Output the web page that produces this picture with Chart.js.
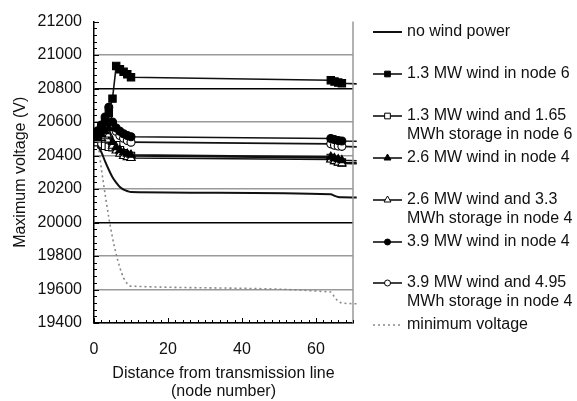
<!DOCTYPE html>
<html>
<head>
<meta charset="utf-8">
<script src="https://cdn.jsdelivr.net/npm/chart.js@4"></script>
<style>
  body { margin: 0; background: #fff; }
  canvas { display: block; }
</style>
</head>
<body>
<canvas id="chart" width="577" height="401"></canvas>
<script>
// node numbers (71 is only there so the lines run a little past the frame)
const nodes = [1, 2, 3, 4, 5, 6, 7, 8, 9, 10, 64, 65, 66, 67, 71];

// maximum voltage (V) per node
const noWind           = [20460, 20420, 20365, 20315, 20270, 20238, 20212, 20196, 20188, 20182, 20169, 20160, 20153, 20151, 20150];
const wind13Node6      = [20530, 20560, 20600, 20655, 20740, 20935, 20915, 20900, 20885, 20868, 20850, 20842, 20836, 20832, 20828];
const wind13Storage    = [20480, 20468, 20458, 20452, 20450, 20462, 20432, 20414, 20404, 20398, 20386, 20374, 20364, 20358, 20356];
const wind26Node4      = [20505, 20525, 20545, 20565, 20480, 20450, 20432, 20418, 20410, 20404, 20392, 20384, 20377, 20372, 20369];
const wind26Storage    = [20495, 20505, 20515, 20525, 20458, 20430, 20410, 20397, 20390, 20385, 20376, 20366, 20358, 20353, 20352];
const wind39Node4      = [20548, 20582, 20630, 20688, 20600, 20565, 20545, 20530, 20520, 20512, 20502, 20495, 20490, 20487, 20485];
const wind39Storage    = [20515, 20545, 20575, 20600, 20585, 20545, 20520, 20503, 20490, 20480, 20470, 20462, 20457, 20455, 20452];
const minVoltage       = [20490, 20320, 20170, 20030, 19910, 19810, 19730, 19670, 19635, 19620, 19585, 19555, 19530, 19520, 19515];

const seriesLabels = [
    'no wind power',
    '1.3 MW wind in node 6',
    '1.3 MW wind and 1.65\nMWh storage in node 6',
    '2.6 MW wind in node 4',
    '2.6 MW wind and 3.3\nMWh storage in node 4',
    '3.9 MW wind in node 4',
    '3.9 MW wind and 4.95\nMWh storage in node 4',
    'minimum voltage'
];

const yTicks = { min: 19400, max: 21200, step: 200 };
const xTicks = { min: 0, max: 70, step: 20 };

const FONT = "'Liberation Sans', Arial, sans-serif";

function toPoints(values) {
    return values.map((v, i) => ({ x: nodes[i], y: v }));
}

function series(label, values, style, filled, radius) {
    return {
        label: label,
        data: toPoints(values),
        borderColor: '#111',
        borderWidth: 1.6,
        backgroundColor: filled ? '#000' : '#fff',
        pointStyle: style,
        pointRadius: ctx => (ctx.raw && ctx.raw.x > xTicks.max) ? 0 : radius,
        pointBorderColor: '#000',
        pointBackgroundColor: filled ? '#000' : '#fff',
        pointBorderWidth: 1.1,
        tension: 0,
        clip: { left: 0, top: false, right: 4, bottom: 0 }
    };
}

const datasets = [
    {
        label: seriesLabels[0],
        data: toPoints(noWind),
        borderColor: '#111',
        borderWidth: 2,
        pointRadius: 0,
        cubicInterpolationMode: 'monotone',
        clip: { left: 0, top: false, right: 4, bottom: 0 }
    },
    series(seriesLabels[1], wind13Node6, 'rect', true, 5.2),
    Object.assign(series(seriesLabels[2], wind13Storage, 'rect', false, 5.2), { order: 1 }),
    series(seriesLabels[3], wind26Node4, 'triangle', true, 4.8),
    series(seriesLabels[4], wind26Storage, 'triangle', false, 4.8),
    series(seriesLabels[5], wind39Node4, 'circle', true, 4),
    series(seriesLabels[6], wind39Storage, 'circle', false, 4),
    {
        label: seriesLabels[7],
        data: toPoints(minVoltage),
        borderColor: '#888',
        borderWidth: 1.6,
        borderDash: [2, 3],
        pointRadius: 0,
        cubicInterpolationMode: 'monotone',
        clip: { left: 0, top: false, right: 4, bottom: 0 }
    }
];

// frame, inward minor ticks and the right-hand legend
const decorations = {
    id: 'decorations',
    afterDraw(chart) {
        const ctx = chart.ctx;
        const area = chart.chartArea;
        const xs = chart.scales.x;
        const ys = chart.scales.y;
        ctx.save();

        // right border
        ctx.strokeStyle = '#999';
        ctx.lineWidth = 1.5;
        ctx.beginPath();
        ctx.moveTo(area.right, area.top);
        ctx.lineTo(area.right, area.bottom);
        ctx.stroke();

        // inward ticks
        ctx.strokeStyle = '#000';
        ctx.lineWidth = 1;
        ctx.beginPath();
        for (let v = yTicks.min; v <= yTicks.max; v += 40) {
            const y = Math.round(ys.getPixelForValue(v)) + 0.5;
            const len = (v - yTicks.min) % 200 === 0 ? 5 : 3;
            ctx.moveTo(area.left, y);
            ctx.lineTo(area.left + len, y);
        }
        for (let v = xTicks.min; v <= xTicks.max; v += 2) {
            const x = Math.round(xs.getPixelForValue(v)) + 0.5;
            const len = v % 20 === 0 ? 5 : 3;
            ctx.moveTo(x, area.bottom);
            ctx.lineTo(x, area.bottom - len);
        }
        ctx.stroke();

        // legend
        const lx0 = 373, lx1 = 402, tx = 407;
        const firstRows = [32, 74, 116, 158, 200, 242, 283, 325];
        ctx.font = '16px ' + FONT;
        ctx.fillStyle = '#111';
        ctx.textBaseline = 'middle';
        chart.data.datasets.forEach((ds, i) => {
            const y = firstRows[i];
            ctx.save();
            ctx.strokeStyle = ds.borderColor;
            ctx.lineWidth = ds.borderWidth;
            ctx.setLineDash(ds.borderDash || []);
            ctx.beginPath();
            ctx.moveTo(lx0, y);
            ctx.lineTo(lx1, y);
            ctx.stroke();
            ctx.restore();
            if (ds.pointStyle) {
                ctx.save();
                ctx.strokeStyle = ds.pointBorderColor;
                ctx.fillStyle = ds.pointBackgroundColor;
                ctx.lineWidth = 1;
                Chart.helpers.drawPoint(ctx, {
                    pointStyle: ds.pointStyle,
                    radius: ds.pointStyle === 'circle' ? 3 : 4,
                    borderWidth: 1,
                    rotation: 0
                }, (lx0 + lx1) / 2, y);
                ctx.restore();
            }
            ds.label.split('\n').forEach((line, k) => {
                ctx.fillText(line, tx, y + k * 19);
            });
        });
        ctx.restore();
    }
};

new Chart(document.getElementById('chart'), {
    type: 'line',
    data: { datasets: datasets },
    options: {
        responsive: false,
        animation: false,
        devicePixelRatio: 1,
        layout: { padding: { top: 21, right: 224, bottom: 0, left: 0 } },
        plugins: {
            legend: { display: false },
            tooltip: { enabled: false }
        },
        scales: {
            x: {
                type: 'linear',
                min: xTicks.min,
                max: xTicks.max,
                afterFit(scale) { scale.height = 78; },
                ticks: {
                    stepSize: xTicks.step,
                    autoSkip: false,
                    maxRotation: 0,
                    padding: 17,
                    color: '#111',
                    font: { family: FONT, size: 16 },
                    callback: v => (v % xTicks.step === 0 ? String(v) : '')
                },
                grid: { display: false, drawTicks: false },
                border: { display: true, color: '#000', width: 1.5 },
                title: {
                    display: true,
                    text: ['Distance from transmission line', '(node number)'],
                    color: '#111',
                    font: { family: FONT, size: 16, lineHeight: 1.15 },
                    padding: { top: 0, bottom: 0 }
                }
            },
            y: {
                min: yTicks.min,
                max: yTicks.max,
                afterFit(scale) { scale.width = 94; },
                ticks: {
                    stepSize: yTicks.step,
                    padding: 12,
                    color: '#111',
                    font: { family: FONT, size: 16 },
                    callback: v => String(v)
                },
                grid: {
                    drawTicks: false,
                    lineWidth: 1.5,
                    color: ctx => {
                        const v = ctx.tick && ctx.tick.value;
                        if (v === yTicks.max) return 'rgba(0,0,0,0)';
                        if (v === 20800 || v === 20000) return '#000';
                        return '#999';
                    }
                },
                border: { display: true, color: '#000', width: 1.5 },
                title: {
                    display: true,
                    text: 'Maximum voltage (V)',
                    color: '#111',
                    font: { family: FONT, size: 16 },
                    padding: { top: 11, bottom: 0 }
                }
            }
        }
    },
    plugins: [decorations]
});
</script>
</body>
</html>
